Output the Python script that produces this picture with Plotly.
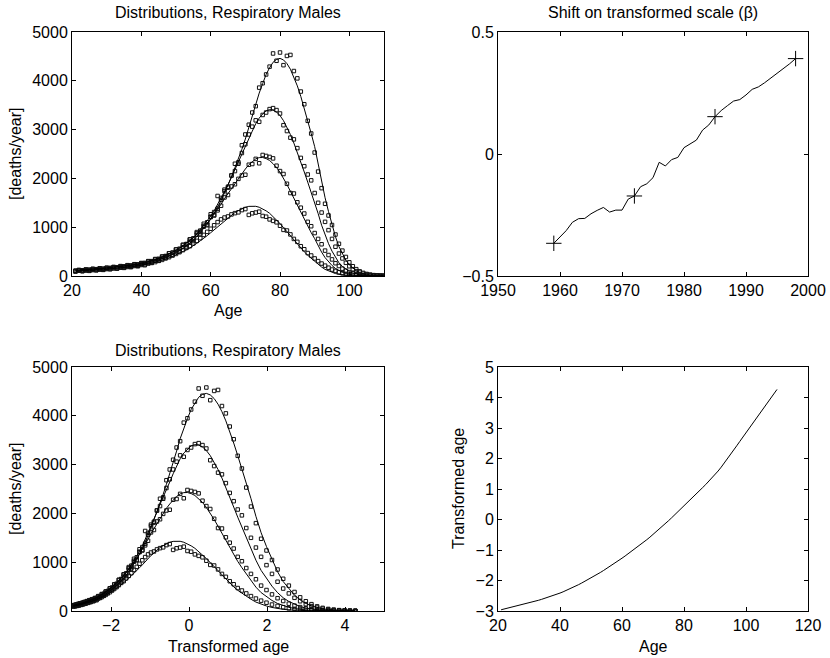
import plotly.graph_objects as go

# ---------------- data ----------------
ages = list(range(21, 111))

# transformed age at each integer age
transformed_age = [
    -2.960, -2.936, -2.912, -2.888, -2.863, -2.838, -2.813, -2.787, -2.761, -2.734,
    -2.707, -2.679, -2.650, -2.620, -2.589, -2.557, -2.523, -2.488, -2.451, -2.412,
    -2.371, -2.328, -2.283, -2.236, -2.187, -2.136, -2.083, -2.029, -1.974, -1.917,
    -1.859, -1.799, -1.738, -1.675, -1.611, -1.545, -1.478, -1.410, -1.340, -1.269,
    -1.197, -1.124, -1.050, -0.975, -0.899, -0.822, -0.743, -0.662, -0.579, -0.494,
    -0.407, -0.318, -0.227, -0.134, -0.040, 0.055, 0.151, 0.248, 0.346, 0.445,
    0.545, 0.645, 0.745, 0.845, 0.945, 1.045, 1.146, 1.249, 1.356, 1.469,
    1.589, 1.716, 1.849, 1.987, 2.128, 2.271, 2.415, 2.560, 2.705, 2.850,
    2.995, 3.140, 3.284, 3.427, 3.569, 3.710, 3.850, 3.989, 4.127, 4.264]

# fitted distributions [deaths/year]
fit_1959 = [
    99, 101, 106, 109, 114, 119, 123, 128, 132, 138,
    144, 150, 157, 164, 172, 179, 188, 196, 208, 217,
    229, 246, 260, 278, 298, 319, 346, 370, 401, 427,
    461, 497, 535, 576, 617, 669, 722, 770, 827, 886,
    945, 1013, 1071, 1136, 1190, 1249, 1301, 1340, 1378, 1407,
    1427, 1435, 1428, 1409, 1380, 1335, 1285, 1220, 1154, 1075,
    992, 906, 818, 732, 649, 569, 495, 425, 362, 305,
    241, 183, 136, 102, 73, 50, 34, 23, 15, 9,
    6, 3, 2, 1, 1, 0, 0, 0, 0, 0]
fit_1972 = [
    117, 120, 126, 130, 136, 143, 146, 152, 157, 165,
    172, 180, 188, 196, 205, 214, 224, 234, 247, 258,
    275, 296, 313, 337, 362, 389, 422, 452, 492, 526,
    571, 617, 670, 724, 781, 853, 929, 998, 1083, 1171,
    1263, 1373, 1472, 1586, 1687, 1800, 1910, 2003, 2104, 2192,
    2278, 2347, 2400, 2426, 2428, 2406, 2367, 2301, 2225, 2123,
    2005, 1875, 1736, 1592, 1445, 1297, 1154, 1017, 888, 765,
    623, 489, 377, 291, 216, 154, 107, 75, 50, 32,
    20, 13, 8, 5, 3, 2, 1, 1, 0, 0]
fit_1985 = [
    112, 116, 121, 125, 131, 136, 143, 147, 152, 159,
    166, 174, 182, 190, 200, 208, 217, 227, 241, 253,
    268, 288, 305, 328, 351, 380, 415, 446, 487, 523,
    567, 618, 671, 724, 790, 866, 952, 1029, 1122, 1224,
    1336, 1467, 1589, 1732, 1868, 2024, 2186, 2327, 2486, 2642,
    2811, 2968, 3119, 3236, 3321, 3384, 3409, 3399, 3361, 3288,
    3184, 3054, 2899, 2724, 2536, 2336, 2131, 1924, 1720, 1522,
    1280, 1041, 832, 663, 509, 376, 271, 196, 135, 91,
    60, 39, 26, 16, 10, 6, 4, 2, 1, 1]
fit_1998 = [
    100, 104, 108, 112, 117, 123, 126, 132, 136, 143,
    149, 156, 163, 171, 178, 187, 195, 204, 217, 227,
    241, 262, 276, 297, 320, 345, 376, 405, 439, 474,
    520, 566, 618, 673, 732, 809, 890, 965, 1061, 1165,
    1277, 1415, 1546, 1706, 1852, 2032, 2221, 2392, 2596, 2806,
    3043, 3277, 3530, 3748, 3943, 4130, 4268, 4380, 4439, 4459,
    4428, 4353, 4237, 4084, 3896, 3680, 3442, 3187, 2921, 2651,
    2303, 1940, 1604, 1320, 1051, 805, 603, 452, 324, 227,
    156, 105, 70, 45, 28, 18, 12, 7, 4, 3]

# observed deaths [deaths/year]
obs_1959 = [
    92, 108, 98, 112, 105, 121, 116, 131, 125, 142,
    139, 155, 150, 170, 166, 185, 181, 205, 199, 226,
    221, 254, 268, 285, 310, 330, 362, 385, 420, 452,
    488, 530, 575, 610, 668, 720, 776, 842, 905, 968,
    1040, 1105, 1160, 1198, 1220, 1262, 1288, 1305, 1350, 1372,
    1252, 1285, 1300, 1318, 1230, 1215, 1160, 1130, 1100, 1030,
    945, 932, 852, 760, 700, 610, 548, 470, 420, 360,
    305, 255, 212, 170, 132, 104, 78, 55, 42, 30,
    21, 15, 10, 7, 5, 3, 2, 2, 1, 1]
obs_1972 = [
    110, 124, 118, 135, 130, 148, 140, 158, 150, 170,
    166, 186, 180, 203, 198, 222, 216, 242, 238, 266,
    268, 305, 305, 348, 352, 401, 410, 466, 480, 540,
    556, 635, 652, 745, 760, 878, 905, 1030, 1055, 1205,
    1240, 1345, 1440, 1610, 1660, 1835, 1880, 1990, 2060, 2075,
    2280, 2295, 2400, 2310, 2480, 2460, 2440, 2410, 2260, 2150,
    2090, 1890, 1700, 1690, 1510, 1400, 1280, 1110, 1020, 880,
    760, 650, 520, 430, 340, 262, 205, 150, 110, 80,
    55, 38, 26, 18, 12, 8, 5, 3, 2, 1]
obs_1985 = [
    105, 120, 115, 130, 124, 142, 137, 153, 146, 165,
    160, 180, 176, 197, 193, 215, 210, 236, 233, 262,
    262, 298, 298, 340, 345, 392, 405, 462, 475, 545,
    553, 640, 655, 752, 772, 900, 930, 1070, 1100, 1265,
    1310, 1640, 1560, 1770, 1830, 2060, 2150, 2300, 2520, 2700,
    2900, 3060, 3190, 3160, 3300, 3350, 3420, 3440, 3400, 3330,
    3090, 2970, 2835, 2800, 2620, 2420, 2250, 2080, 1960, 1700,
    1500, 1300, 1110, 940, 760, 600, 460, 360, 270, 200,
    140, 100, 70, 48, 32, 22, 14, 9, 6, 4]
obs_1998 = [
    95, 110, 102, 118, 112, 130, 121, 140, 131, 152,
    143, 165, 158, 180, 172, 198, 190, 216, 210, 240,
    236, 275, 270, 312, 312, 362, 368, 425, 430, 500,
    508, 592, 605, 705, 716, 845, 872, 1010, 1040, 1215,
    1250, 1380, 1600, 1740, 1810, 2060, 2300, 2330, 2680, 2900,
    3100, 3350, 3480, 3860, 3950, 4130, 4290, 4560, 4410, 4580,
    4320, 4510, 4530, 4200, 4050, 3780, 3520, 3180, 2920, 2530,
    2140, 1800, 1480, 1240, 1045, 850, 660, 520, 390, 280,
    200, 140, 95, 64, 42, 28, 18, 12, 8, 5]

# shift on transformed scale (beta) by year
years = list(range(1959, 1999))
beta = [
    -0.366, -0.340, -0.314, -0.280, -0.265, -0.264, -0.245, -0.231, -0.219, -0.238,
    -0.230, -0.230, -0.185, -0.172, -0.134, -0.122, -0.097, -0.034, -0.049, -0.023,
    -0.014, 0.026, 0.041, 0.057, 0.098, 0.119, 0.153, 0.178, 0.198, 0.217,
    0.223, 0.242, 0.265, 0.275, 0.292, 0.311, 0.333, 0.351, 0.369, 0.391]
marked_years = [1959, 1972, 1985, 1998]

fits = [fit_1959, fit_1972, fit_1985, fit_1998]
observed = [obs_1959, obs_1972, obs_1985, obs_1998]

# ---------------- figure ----------------
W, H = 830, 658
FONT = "Liberation Sans, Arial, Helvetica, sans-serif"


def fx(p):
    return p / W


def fy(p):
    return 1 - p / H


fig = go.Figure()

mk = dict(symbol="square-open", size=3.5, color="#111111", line=dict(width=1, color="#111111"))
ln = dict(color="black", width=1)

for obs in observed:
    fig.add_trace(go.Scatter(x=ages, y=obs, mode="markers", marker=mk,
                             xaxis="x", yaxis="y", showlegend=False))
for fit in fits:
    fig.add_trace(go.Scatter(x=ages, y=fit, mode="lines", line=ln,
                             xaxis="x", yaxis="y", showlegend=False))

fig.add_trace(go.Scatter(x=years, y=beta, mode="lines", line=ln,
                         xaxis="x2", yaxis="y2", showlegend=False))
fig.add_trace(go.Scatter(x=marked_years, y=[beta[years.index(yr)] for yr in marked_years],
                         mode="markers",
                         marker=dict(symbol="cross-thin-open", size=11,
                                     line=dict(width=1, color="black"), color="black"),
                         xaxis="x2", yaxis="y2", showlegend=False))

for obs in observed:
    fig.add_trace(go.Scatter(x=transformed_age, y=obs, mode="markers", marker=mk,
                             xaxis="x3", yaxis="y3", showlegend=False))
for fit in fits:
    fig.add_trace(go.Scatter(x=transformed_age, y=fit, mode="lines", line=ln,
                             xaxis="x3", yaxis="y3", showlegend=False))

fig.add_trace(go.Scatter(x=ages, y=transformed_age, mode="lines", line=ln,
                         xaxis="x4", yaxis="y4", showlegend=False))

ax = dict(showline=True, linecolor="black", linewidth=1, mirror="ticks",
          ticks="inside", ticklen=4, tickcolor="black", tickwidth=1,
          showgrid=False, zeroline=False, automargin=False,
          tickfont=dict(family=FONT, size=16, color="black"))

top = [fy(276), fy(32)]
bot = [fy(611), fy(367)]
left = [fx(72), fx(384)]
right = [fx(498), fx(808)]

fig.update_layout(
    width=W, height=H,
    margin=dict(l=0, r=0, t=0, b=0, autoexpand=False),
    paper_bgcolor="white", plot_bgcolor="white",
    font=dict(family=FONT, size=16, color="black"),
    xaxis=dict(ax, domain=left, range=[20, 110], dtick=20, tick0=0, anchor="y"),
    yaxis=dict(ax, domain=top, range=[0, 5000], dtick=1000, tick0=0, anchor="x"),
    xaxis2=dict(ax, domain=right, range=[1950, 2000], dtick=10, tick0=1950, anchor="y2"),
    yaxis2=dict(ax, domain=top, range=[-0.5, 0.5], dtick=0.5, tick0=0, anchor="x2"),
    xaxis3=dict(ax, domain=left, range=[-3, 5], dtick=2, tick0=0, anchor="y3"),
    yaxis3=dict(ax, domain=bot, range=[0, 5000], dtick=1000, tick0=0, anchor="x3"),
    xaxis4=dict(ax, domain=right, range=[20, 120], dtick=20, tick0=0, anchor="y4"),
    yaxis4=dict(ax, domain=bot, range=[-3, 5], dtick=1, tick0=0, anchor="x4"),
)


def label(text, x, y, angle=0):
    fig.add_annotation(text=text, x=fx(x), y=fy(y), xref="paper", yref="paper",
                       showarrow=False, xanchor="center", yanchor="middle",
                       textangle=angle, font=dict(family=FONT, size=16, color="black"))


label("Distributions, Respiratory Males", 228, 13)
label("Shift on transformed scale (β)", 653, 13)
label("Distributions, Respiratory Males", 228, 350)
label("Age", 228, 310)
label("Transformed age", 228, 646)
label("Age", 653, 646)
label("[deaths/year]", 15, 154, -90)
label("[deaths/year]", 15, 489, -90)
label("Transformed age", 458, 489, -90)

fig.write_html(
    "out.html",
    config={"displayModeBar": False},
    post_script="document.body.style.margin='0';document.body.style.overflow='hidden';",
)
